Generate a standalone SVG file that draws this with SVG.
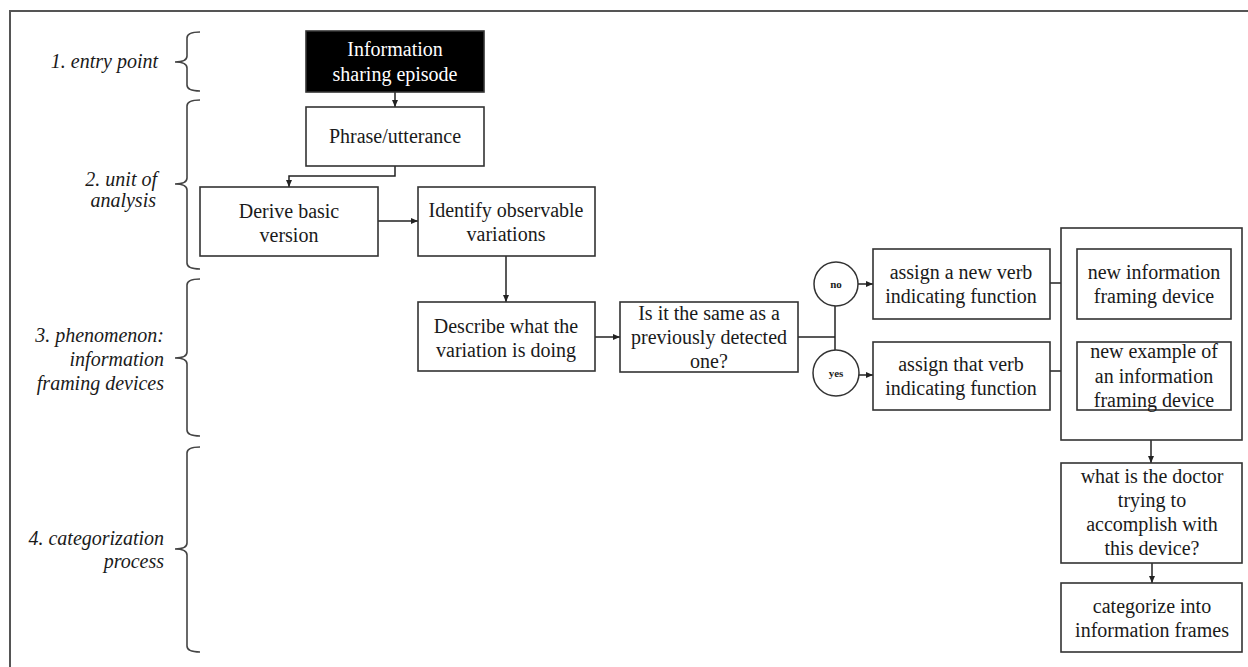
<svg xmlns="http://www.w3.org/2000/svg" width="1248" height="667" viewBox="0 0 1248 667">
<defs>
<marker id="ah" markerWidth="8" markerHeight="8" refX="7" refY="4" orient="auto" markerUnits="userSpaceOnUse">
<path d="M0,1 L7,4 L0,7 Z" fill="#222"/>
</marker>
<style>
.box{fill:#fff;stroke:#333;stroke-width:1.6}
.blk{fill:#000;stroke:#333;stroke-width:1.6}
.t{font-family:"Liberation Serif","Times New Roman",serif;font-size:20px;fill:#1a1a1a;text-anchor:middle}
.tw{font-family:"Liberation Serif","Times New Roman",serif;font-size:20px;fill:#fff;text-anchor:middle}
.lab{font-family:"Liberation Serif","Times New Roman",serif;font-size:20px;font-style:italic;fill:#1a1a1a;text-anchor:end}
.sm{font-family:"Liberation Serif","Times New Roman",serif;font-size:11px;font-weight:bold;fill:#222;text-anchor:middle}
.br{fill:none;stroke:#444;stroke-width:1.6}
.c{fill:none;stroke:#222;stroke-width:1.5}
.ca{fill:none;stroke:#222;stroke-width:1.5;marker-end:url(#ah)}
</style>
</defs>
<rect width="1248" height="667" fill="#fff"/>
<path d="M10,667 V11 H1248" fill="none" stroke="#555" stroke-width="2"/>

<g id="labels">
<text class="lab" x="158" y="68">1. entry point</text>
<text class="lab" x="157" y="186">2. unit of</text>
<text class="lab" x="156" y="207">analysis</text>
<text class="lab" x="164" y="342">3. phenomenon:</text>
<text class="lab" x="164" y="366">information</text>
<text class="lab" x="164" y="390">framing devices</text>
<text class="lab" x="164" y="545">4. categorization</text>
<text class="lab" x="164" y="568">process</text>
</g>

<g id="braces">
<path class="br" d="M200,32 Q187,32 187,38 V56 Q187,62 175,62 Q187,62 187,68 V85 Q187,91 200,91"/>
<path class="br" d="M200,100 Q187,100 187,106 V178 Q187,184 175,184 Q187,184 187,190 V263 Q187,269 200,269"/>
<path class="br" d="M200,279 Q187,279 187,285 V352 Q187,358 175,358 Q187,358 187,364 V430 Q187,436 200,436"/>
<path class="br" d="M200,447 Q187,447 187,453 V543 Q187,549 175,549 Q187,549 187,555 V646 Q187,652 200,652"/>
</g>

<g id="connectors">
<path class="ca" d="M395,92 V107"/>
<path class="ca" d="M395,166 V176 H289 V187"/>
<path class="ca" d="M378,221 H418"/>
<path class="ca" d="M506,256 V302"/>
<path class="ca" d="M595,337 H620"/>
<path class="c" d="M798,337 H835"/>
<path class="c" d="M835,306 V350"/>
<path class="ca" d="M858,284 H873"/>
<path class="ca" d="M859,375 H873"/>
<path class="ca" d="M1050,283 H1077"/>
<path class="ca" d="M1050,371 H1077"/>
<path class="ca" d="M1151,440 V463"/>
<path class="ca" d="M1152,563 V583"/>
</g>

<g id="n-episode">
<rect class="blk" x="306" y="31" width="178" height="61"/>
<text class="tw" x="395" y="56">Information</text>
<text class="tw" x="395" y="81">sharing episode</text>
</g>
<g id="n-phrase">
<rect class="box" x="306" y="107" width="178" height="59"/>
<text class="t" x="395" y="143">Phrase/utterance</text>
</g>
<g id="n-derive">
<rect class="box" x="200" y="187" width="178" height="69"/>
<text class="t" x="289" y="218">Derive basic</text>
<text class="t" x="289" y="242">version</text>
</g>
<g id="n-identify">
<rect class="box" x="418" y="187" width="177" height="69"/>
<text class="t" x="506" y="217">Identify observable</text>
<text class="t" x="506" y="241">variations</text>
</g>
<g id="n-describe">
<rect class="box" x="418" y="302" width="177" height="69"/>
<text class="t" x="506" y="333">Describe what the</text>
<text class="t" x="506" y="357">variation is doing</text>
</g>
<g id="n-same">
<rect class="box" x="620" y="302" width="178" height="70"/>
<text class="t" x="709" y="320">Is it the same as a</text>
<text class="t" x="709" y="344">previously detected</text>
<text class="t" x="709" y="368">one?</text>
</g>
<g id="n-no">
<circle cx="836" cy="284" r="22" fill="#fff" stroke="#333" stroke-width="1.5"/>
<text class="sm" x="836" y="288">no</text>
</g>
<g id="n-yes">
<circle cx="836" cy="373" r="23" fill="#fff" stroke="#333" stroke-width="1.5"/>
<text class="sm" x="836" y="377">yes</text>
</g>
<g id="n-assign-new">
<rect class="box" x="873" y="249" width="177" height="70"/>
<text class="t" x="961" y="279">assign a new verb</text>
<text class="t" x="961" y="303">indicating function</text>
</g>
<g id="n-assign-that">
<rect class="box" x="873" y="342" width="177" height="68"/>
<text class="t" x="961" y="371">assign that verb</text>
<text class="t" x="961" y="395">indicating function</text>
</g>
<g id="n-container">
<rect class="box" x="1061" y="228" width="181" height="212"/>
</g>
<g id="n-new-device">
<rect class="box" x="1077" y="249" width="154" height="70"/>
<text class="t" x="1154" y="279">new information</text>
<text class="t" x="1154" y="303">framing device</text>
</g>
<g id="n-new-example">
<rect class="box" x="1077" y="342" width="154" height="68"/>
<text class="t" x="1154" y="358">new example of</text>
<text class="t" x="1154" y="383">an information</text>
<text class="t" x="1154" y="407">framing device</text>
</g>
<g id="n-doctor">
<rect class="box" x="1061" y="463" width="181" height="100"/>
<text class="t" x="1152" y="483">what is the doctor</text>
<text class="t" x="1152" y="507">trying to</text>
<text class="t" x="1152" y="531">accomplish with</text>
<text class="t" x="1152" y="555">this device?</text>
</g>
<g id="n-categorize">
<rect class="box" x="1061" y="583" width="181" height="69"/>
<text class="t" x="1152" y="613">categorize into</text>
<text class="t" x="1152" y="637">information frames</text>
</g>
</svg>
